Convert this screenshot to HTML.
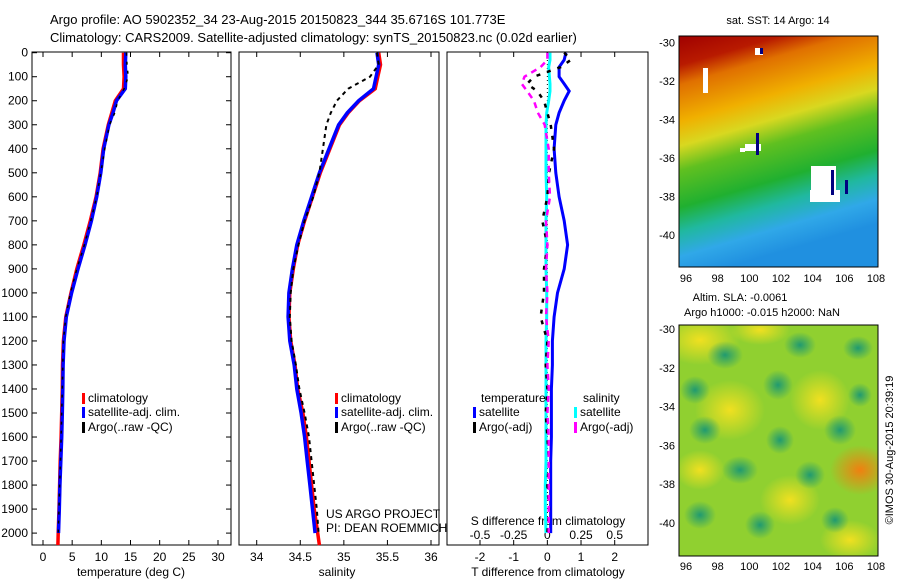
<!DOCTYPE html>
<html><head><meta charset="utf-8"><style>
body{margin:0;background:#fff;}
svg{font-family:"Liberation Sans",sans-serif;font-size:12px;}
</style></head><body>
<svg id="c" width="900" height="580" viewBox="0 0 900 580">
<defs>
<linearGradient id="sst" x1="0" y1="0" x2="0.25" y2="1">
<stop offset="0" stop-color="#a00000"/><stop offset="0.12" stop-color="#b81a00"/>
<stop offset="0.2" stop-color="#e07000"/><stop offset="0.35" stop-color="#f0b000"/>
<stop offset="0.45" stop-color="#d8d820"/><stop offset="0.55" stop-color="#60c020"/>
<stop offset="0.7" stop-color="#20b030"/><stop offset="0.8" stop-color="#20b8a0"/>
<stop offset="0.9" stop-color="#30a8e8"/><stop offset="1" stop-color="#2090e0"/>
</linearGradient>
<radialGradient id="yb"><stop offset="0" stop-color="#f0e020"/><stop offset="1" stop-color="#f0e020" stop-opacity="0"/></radialGradient>
<radialGradient id="tb"><stop offset="0" stop-color="#209a70"/><stop offset="1" stop-color="#209a70" stop-opacity="0"/></radialGradient>
<radialGradient id="ob"><stop offset="0" stop-color="#f08010"/><stop offset="1" stop-color="#f08010" stop-opacity="0"/></radialGradient>
<clipPath id="m2c"><rect x="679" y="325" width="199" height="231"/></clipPath>
</defs>
<text x="50" y="24" font-size="13">Argo profile: AO 5902352_34 23-Aug-2015 20150823_344 35.6716S 101.773E</text>
<text x="50" y="42" font-size="13">Climatology: CARS2009. Satellite-adjusted climatology: synTS_20150823.nc (0.02d earlier)</text>
<g id="g"></g>
<text x="778" y="24" text-anchor="middle" font-size="11">sat. SST: 14 Argo: 14</text>
<rect x="679" y="36" width="199" height="231" fill="url(#sst)"/>
<g fill="#fff">
<rect x="755" y="48" width="8" height="7"/><rect x="745" y="144" width="16" height="7"/><rect x="811" y="166" width="25" height="30"/><rect x="740" y="148" width="5" height="4"/><rect x="703" y="68" width="5" height="25"/><rect x="810" y="190" width="30" height="12"/>
</g>
<g fill="#000080"><rect x="760" y="48" width="3" height="6"/><rect x="756" y="133" width="3" height="22"/><rect x="831" y="170" width="3" height="25"/><rect x="845" y="180" width="3" height="14"/></g>
<rect x="679" y="36" width="199" height="231" fill="none" stroke="#000"/>
<text x="740" y="301" font-size="11" text-anchor="middle">Altim. SLA: -0.0061</text>
<text x="762" y="316" font-size="11" text-anchor="middle">Argo h1000: -0.015 h2000: NaN</text>
<g clip-path="url(#m2c)">
<rect x="679" y="325" width="199" height="231" fill="#90d030"/>
<ellipse cx="700" cy="340" rx="40" ry="25" fill="url(#yb)"/><ellipse cx="760" cy="330" rx="30" ry="15" fill="url(#yb)"/>
<ellipse cx="730" cy="410" rx="35" ry="30" fill="url(#yb)"/><ellipse cx="820" cy="400" rx="30" ry="30" fill="url(#yb)"/>
<ellipse cx="860" cy="470" rx="30" ry="25" fill="url(#ob)"/><ellipse cx="790" cy="500" rx="30" ry="25" fill="url(#yb)"/>
<ellipse cx="700" cy="470" rx="25" ry="20" fill="url(#yb)"/><ellipse cx="850" cy="540" rx="30" ry="20" fill="url(#yb)"/>
<ellipse cx="725" cy="355" rx="18" ry="14" fill="url(#tb)"/><ellipse cx="800" cy="345" rx="16" ry="13" fill="url(#tb)"/>
<ellipse cx="858" cy="348" rx="15" ry="12" fill="url(#tb)"/><ellipse cx="695" cy="390" rx="15" ry="14" fill="url(#tb)"/>
<ellipse cx="778" cy="385" rx="15" ry="15" fill="url(#tb)"/><ellipse cx="705" cy="430" rx="16" ry="14" fill="url(#tb)"/>
<ellipse cx="780" cy="440" rx="14" ry="14" fill="url(#tb)"/><ellipse cx="840" cy="430" rx="16" ry="15" fill="url(#tb)"/>
<ellipse cx="740" cy="470" rx="18" ry="14" fill="url(#tb)"/><ellipse cx="810" cy="475" rx="15" ry="14" fill="url(#tb)"/>
<ellipse cx="700" cy="515" rx="16" ry="14" fill="url(#tb)"/><ellipse cx="760" cy="525" rx="15" ry="14" fill="url(#tb)"/>
<ellipse cx="835" cy="520" rx="14" ry="13" fill="url(#tb)"/><ellipse cx="860" cy="395" rx="12" ry="12" fill="url(#tb)"/>
</g>
<rect x="679" y="325" width="199" height="231" fill="none" stroke="#000"/>
<text transform="translate(893,450) rotate(-90)" text-anchor="middle" font-size="11">©IMOS 30-Aug-2015 20:39:19</text>
</svg>
<script>
// ---- data ----
const depthsT=[0,50,100,150,200,250,300,400,500,600,700,800,900,1000,1100,1200,1300,1400,1500,1600,1700,1800,1900,2000];
const tempClim=[13.8,13.8,13.9,13.8,12.4,11.8,11.2,10.3,9.8,9.1,8.1,7.0,5.8,4.8,3.9,3.5,3.35,3.3,3.2,3.1,2.95,2.85,2.75,2.6];
const tempSat=[14.2,14.1,14.2,14.1,12.6,12.0,11.3,10.4,9.9,9.2,8.3,7.2,6.0,4.9,4.0,3.6,3.45,3.4,3.3,3.2,3.05,2.9,2.8,2.65];
const tempArgo=[14.3,14.4,14.6,13.9,12.8,12.3,11.4,10.6,9.9,9.2,8.2,7.1,5.8,4.7,3.9,3.5,3.4,3.3,3.2,3.1,3.0,2.85,2.75,2.6];
const salClim=[35.4,35.42,35.39,35.36,35.18,35.05,34.95,34.84,34.73,34.64,34.55,34.47,34.42,34.38,34.37,34.39,34.44,34.47,34.53,34.57,34.6,34.63,34.66,34.7];
const salSat=[35.38,35.4,35.37,35.34,35.17,35.04,34.94,34.83,34.72,34.63,34.54,34.46,34.41,34.37,34.36,34.38,34.43,34.46,34.51,34.55,34.58,34.61,34.64,34.67];
const salArgo=[35.38,35.4,35.3,35.05,34.92,34.85,34.8,34.76,34.72,34.65,34.55,34.48,34.42,34.39,34.38,34.4,34.45,34.49,34.55,34.6,34.63,34.66,34.69,34.71];
const diffDepths=[0,30,60,100,130,160,200,250,300,400,500,600,700,800,900,1000,1100,1200,1300,1400,1500,1600,1700,1800,1900,2000];
const tDiffSat=[0.55,0.5,0.35,0.35,0.5,0.65,0.5,0.35,0.25,0.2,0.25,0.35,0.5,0.6,0.5,0.3,0.2,0.15,0.15,0.12,0.12,0.12,0.1,0.1,0.1,0.1];
const sDiffSat=[0.02,0.02,0.01,0.015,0.02,0.02,0.01,-0.005,-0.01,-0.01,-0.01,-0.005,-0.01,-0.01,-0.01,-0.005,-0.005,-0.01,-0.01,-0.01,-0.01,-0.01,-0.01,-0.015,-0.015,-0.01];
const tDiffArgo=[0.5,0.7,0.4,-0.4,-0.6,-0.3,-0.1,0,0.1,0.2,0.05,0,-0.15,0,-0.1,-0.1,-0.2,0,-0.05,0,-0.05,0,0.05,0,0.05,0];
const sDiffArgo=[0,0,-0.05,-0.17,-0.19,-0.15,-0.1,-0.07,-0.02,0.01,0.01,0.02,-0.01,0,-0.01,0,-0.01,0.01,0,0.01,0,0.01,0.01,0.01,0.01,0.01];
const depthTicks=[0,100,200,300,400,500,600,700,800,900,1000,1100,1200,1300,1400,1500,1600,1700,1800,1900,2000];
const tempTicks=[0,5,10,15,20,25,30];
const salTicks=[34,34.5,35,35.5,36];
const tdTicks=[-2,-1,0,1,2];
const sdTicks=[-0.5,-0.25,0,0.25,0.5];
const latTicks=[-30,-32,-34,-36,-38,-40];
const lonTicks=[96,98,100,102,104,106,108];
// ---- helpers ----
const NS='http://www.w3.org/2000/svg';
const G=document.getElementById('g');
function mk(t,a,p){const e=document.createElementNS(NS,t);for(const k in a)e.setAttribute(k,a[k]);(p||G).appendChild(e);return e;}
const topY=52,bot=545;
const yD=d=>52.7+d*0.2402;
function xLin(v0,x0,v1,x1){return v=>x0+(v-v0)*(x1-x0)/(v1-v0);}
const xT=xLin(0,43,30,218), xS=xLin(34,256.7,36,431), xTD=xLin(-2,480,2,614.7), xSD=xLin(-0.5,480,0.5,614.7);
const panels=[[32,231],[239,439],[447,648]];
panels.forEach((p,i)=>{
 const r=mk('rect',{x:p[0],y:topY,width:p[1]-p[0],height:bot-topY,fill:'none',stroke:'#000'});
 
 
});
depthTicks.forEach(d=>{
 const y=yD(d);
 mk('line',{x1:32,x2:37,y1:y,y2:y,stroke:'#000'});mk('line',{x1:226,x2:231,y1:y,y2:y,stroke:'#000'});
 const t=mk('text',{x:28,y:y+4,'text-anchor':'end'});t.textContent=d;
 
 
});
function xticks(vals,fx,yl,lab){vals.forEach(v=>{const x=fx(v);mk('line',{x1:x,x2:x,y1:bot,y2:bot-5,stroke:'#000'});mk('line',{x1:x,x2:x,y1:topY,y2:topY+5,stroke:'#000'});
 if(lab){const t=mk('text',{x:x,y:yl,'text-anchor':'middle'});t.textContent=v;
 
 }});}
xticks(tempTicks,xT,561,true);xticks(salTicks,xS,561,true);xticks(tdTicks,xTD,561,true);
sdTicks.forEach(v=>{const t=mk('text',{x:xSD(v),y:539,'text-anchor':'middle'});t.textContent=v;
 
 });
[['temperature (deg C)',131,'temperature-axis-title'],['salinity',337,'salinity-axis-title'],['T difference from climatology',548,'t-diff-axis-title']].forEach(a=>{
 const t=mk('text',{x:a[1],y:576,'text-anchor':'middle'});t.textContent=a[0];
 
 });
const sd=mk('text',{x:548,y:525,'text-anchor':'middle'});sd.textContent='S difference from climatology';


function line(ds,vs,fx,col,w,dash,name){
 const pts=ds.map((d,i)=>fx(vs[i]).toFixed(1)+','+yD(d).toFixed(1)).join(' ');
 const a={points:pts,fill:'none',stroke:col,'stroke-width':w};if(dash)a['stroke-dasharray']=dash;
 const e=mk('polyline',a);
 
 
}
line(depthsT.concat([2050]),tempClim.concat([2.55]),xT,'#f00',3.5,null,'temp-climatology-line');
line(depthsT,tempSat,xT,'#00f',3.5,null,'temp-satellite-line');
line(depthsT,tempArgo,xT,'#000',1.5,'3,6','temp-argo-line');
line(depthsT.concat([2050]),salClim.concat([34.72]),xS,'#f00',3.5,null,'sal-climatology-line');
line(depthsT,salSat,xS,'#00f',3.5,null,'sal-satellite-line');
line(depthsT,salArgo,xS,'#000',2,'4,4','sal-argo-line');
mk('line',{x1:xTD(0),x2:xTD(0),y1:topY,y2:yD(2000),stroke:'#000','stroke-dasharray':'1,3'});
line(diffDepths,tDiffSat,xTD,'#00f',3,null,'t-diff-satellite-line');
line(diffDepths,sDiffSat,xSD,'#0ff',3,null,'s-diff-satellite-line');
line(diffDepths,tDiffArgo,xTD,'#000',2.5,'4,7','t-diff-argo-line');
line(diffDepths,sDiffArgo,xSD,'#f0f',2.5,'6,5','s-diff-argo-line');
function leg(x,y,col,txt,name){mk('rect',{x:x-3,y:y-9,width:3,height:11,fill:col});
 const t=mk('text',{x:x+3,y:y});t.textContent=txt;
 
 }
[[85,'T'],[338,'S']].forEach(l=>{leg(l[0],402,'#f00','climatology','legend-climatology');leg(l[0],416,'#00f','satellite-adj. clim.','legend-satellite-adj');leg(l[0],431,'#000','Argo(..raw -QC)','legend-argo-raw');});
const lt=mk('text',{x:481,y:402});lt.textContent='temperature';


const ls=mk('text',{x:583,y:402});ls.textContent='salinity';


leg(476,416,'#00f','satellite','legend-t-satellite');leg(476,431,'#000','Argo(-adj)','legend-t-argo');
leg(577,416,'#0ff','satellite','legend-s-satellite');leg(577,431,'#f0f','Argo(-adj)','legend-s-argo');
const u1=mk('text',{x:326,y:518});u1.textContent='US ARGO PROJECT';


const u2=mk('text',{x:326,y:532});u2.textContent='PI: DEAN ROEMMICH';


const lonX=xLin(96,686,108,876);
[[36,267,42.7,235,282],[325,556,329,523,570]].forEach((m,k)=>{
 const yl=xLin(-30,m[2],-40,m[3]);
 latTicks.forEach(v=>{const y=yl(v);mk('line',{x1:679,x2:683,y1:y,y2:y,stroke:'#000'});mk('line',{x1:874,x2:878,y1:y,y2:y,stroke:'#000'});
  const t=mk('text',{x:675,y:y+4,'text-anchor':'end','font-size':11});t.textContent=v;
  
  });
 lonTicks.forEach(v=>{const x=lonX(v);mk('line',{x1:x,x2:x,y1:m[0],y2:m[0]+4,stroke:'#000'});mk('line',{x1:x,x2:x,y1:m[1],y2:m[1]-4,stroke:'#000'});
  const t=mk('text',{x:x,y:m[4],'text-anchor':'middle','font-size':11});t.textContent=v;
  
  });
});
</script>
</body></html>
